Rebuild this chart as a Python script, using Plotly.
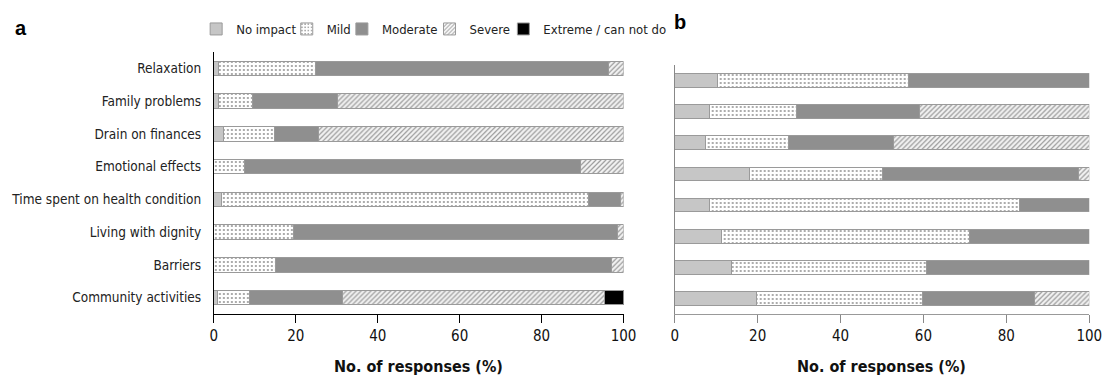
import plotly.graph_objects as go

categories = ["Relaxation", "Family problems", "Drain on finances", "Emotional effects",
              "Time spent on health condition", "Living with dignity", "Barriers",
              "Community activities"]
levels = ["No impact", "Mild", "Moderate", "Severe", "Extreme / can not do"]

a_no_impact = [1.2, 1.2, 2.3, 0, 1.8, 0, 0, 0.8]
a_mild = [23.6, 8.3, 12.4, 7.5, 89.6, 19.4, 15.1, 7.9]
a_moderate = [71.6, 20.6, 10.9, 82.0, 7.8, 79.2, 81.9, 22.8]
a_severe = [3.6, 69.9, 74.4, 10.5, 0.8, 1.4, 3.0, 63.9]
a_extreme = [0, 0, 0, 0, 0, 0, 0, 4.6]

b_no_impact = [10.3, 8.5, 7.5, 18.1, 8.5, 11.2, 13.8, 19.8]
b_mild = [46.0, 20.8, 20.0, 32.0, 74.7, 59.8, 47.0, 40.0]
b_moderate = [43.7, 29.7, 25.3, 47.3, 16.8, 29.0, 39.2, 27.1]
b_severe = [0, 41.0, 47.2, 2.6, 0, 0, 0, 13.1]
b_extreme = [0, 0, 0, 0, 0, 0, 0, 0]

x_ticks = [0, 20, 40, 60, 80, 100]

FONT = "DejaVu Sans Condensed, DejaVu Sans, sans-serif"

# page is offset by the default 8px body margin
OFF = 8
W, H = 1120 - OFF, 380 - OFF


def px(x):
    return (x - OFF) / W


def py(y):
    return 1 - (y - OFF) / H


styles = {
    "No impact": dict(color="#c6c6c6"),
    "Mild": dict(color="white", pattern=dict(shape=".", fgcolor="#222", bgcolor="white",
                                             size=4, solidity=0.2)),
    "Moderate": dict(color="#8f8f8f"),
    "Severe": dict(color="white", pattern=dict(shape="/", fgcolor="#3a3a3a", bgcolor="#f4f4f4",
                                               size=3.5, solidity=0.35)),
    "Extreme / can not do": dict(color="#000000"),
}

# legend square left edges (screen px) for each level
legend_sq = [210, 302, 358, 447, 522]
legend_names = ["legend", "legend2", "legend3", "legend4", "legend5"]

panel_a = [a_no_impact, a_mild, a_moderate, a_severe, a_extreme]
panel_b = [b_no_impact, b_mild, b_moderate, b_severe, b_extreme]

fig = go.Figure()
for panel, (xa, ya, show) in [(panel_a, ("x", "y", True)), (panel_b, ("x2", "y2", False))]:
    for i, (lvl, vals) in enumerate(zip(levels, panel)):
        clean = [v if v else None for v in vals]
        if all(v is None for v in clean) and not show:
            continue
        m = dict(styles[lvl])
        m["line"] = dict(color="#9a9a9a", width=1)
        fig.add_trace(go.Bar(
            x=clean, y=categories, orientation="h", name=lvl,
            marker=m, xaxis=xa, yaxis=ya, showlegend=show,
            legend=legend_names[i], width=0.44,
        ))

legend_layout = {}
for name, sq in zip(legend_names, legend_sq):
    legend_layout[name] = dict(
        orientation="h", x=px(sq - 15), xanchor="left", y=py(29), yanchor="middle",
        font=dict(size=13, family=FONT, color="#222"), itemwidth=30,
        bgcolor="rgba(0,0,0,0)", borderwidth=0,
    )

fig.update_layout(
    width=W, height=H,
    margin=dict(l=0, r=0, t=0, b=0),
    barmode="stack",
    plot_bgcolor="white", paper_bgcolor="white",
    font=dict(family=FONT, color="#222", size=13),
    xaxis=dict(domain=[px(213), px(629)], range=[0, 100], tickvals=x_ticks,
               showgrid=False, zeroline=False, showline=True, linecolor="#000",
               linewidth=1, ticks="outside", ticklen=8, tickcolor="#000",
               tickfont=dict(size=15, family=FONT, color="#111"), anchor="y"),
    yaxis=dict(domain=[py(314), py(52)], range=[7.5, -0.5], showgrid=False,
               zeroline=False, showline=True, linecolor="#000", linewidth=1,
               ticks="", tickfont=dict(size=13.5, family=FONT, color="#222"),
               ticklabelstandoff=9, anchor="x"),
    xaxis2=dict(domain=[px(681), px(1102)], range=[0, 100], tickvals=x_ticks,
                showgrid=False, zeroline=False, showline=True, linecolor="#999",
                linewidth=1, ticks="outside", ticklen=8, tickcolor="#888",
                tickfont=dict(size=15, family=FONT, color="#111"), anchor="y2"),
    yaxis2=dict(domain=[py(314), py(65)], range=[7.5, -0.5], showgrid=False,
                zeroline=False, showline=True, linecolor="#888", linewidth=1,
                showticklabels=False, ticks="", anchor="x2"),
    annotations=[
        dict(text="<b>a</b>", x=px(17), y=py(28), xref="paper", yref="paper",
             showarrow=False, xanchor="center", yanchor="middle",
             font=dict(size=20, family="Liberation Sans, Arial, sans-serif", color="#000")),
        dict(text="<b>b</b>", x=px(686), y=py(22), xref="paper", yref="paper",
             showarrow=False, xanchor="center", yanchor="middle",
             font=dict(size=20, family="Liberation Sans, Arial, sans-serif", color="#000")),
        dict(text="<b>No. of responses (%)</b>", x=px((213 + 629) / 2), y=py(366),
             xref="paper", yref="paper", showarrow=False, xanchor="center", yanchor="middle",
             font=dict(size=16, family=FONT, color="#111")),
        dict(text="<b>No. of responses (%)</b>", x=px((681 + 1102) / 2), y=py(366),
             xref="paper", yref="paper", showarrow=False, xanchor="center", yanchor="middle",
             font=dict(size=16, family=FONT, color="#111")),
    ],
    **legend_layout,
)

fig.write_html("out.html")
